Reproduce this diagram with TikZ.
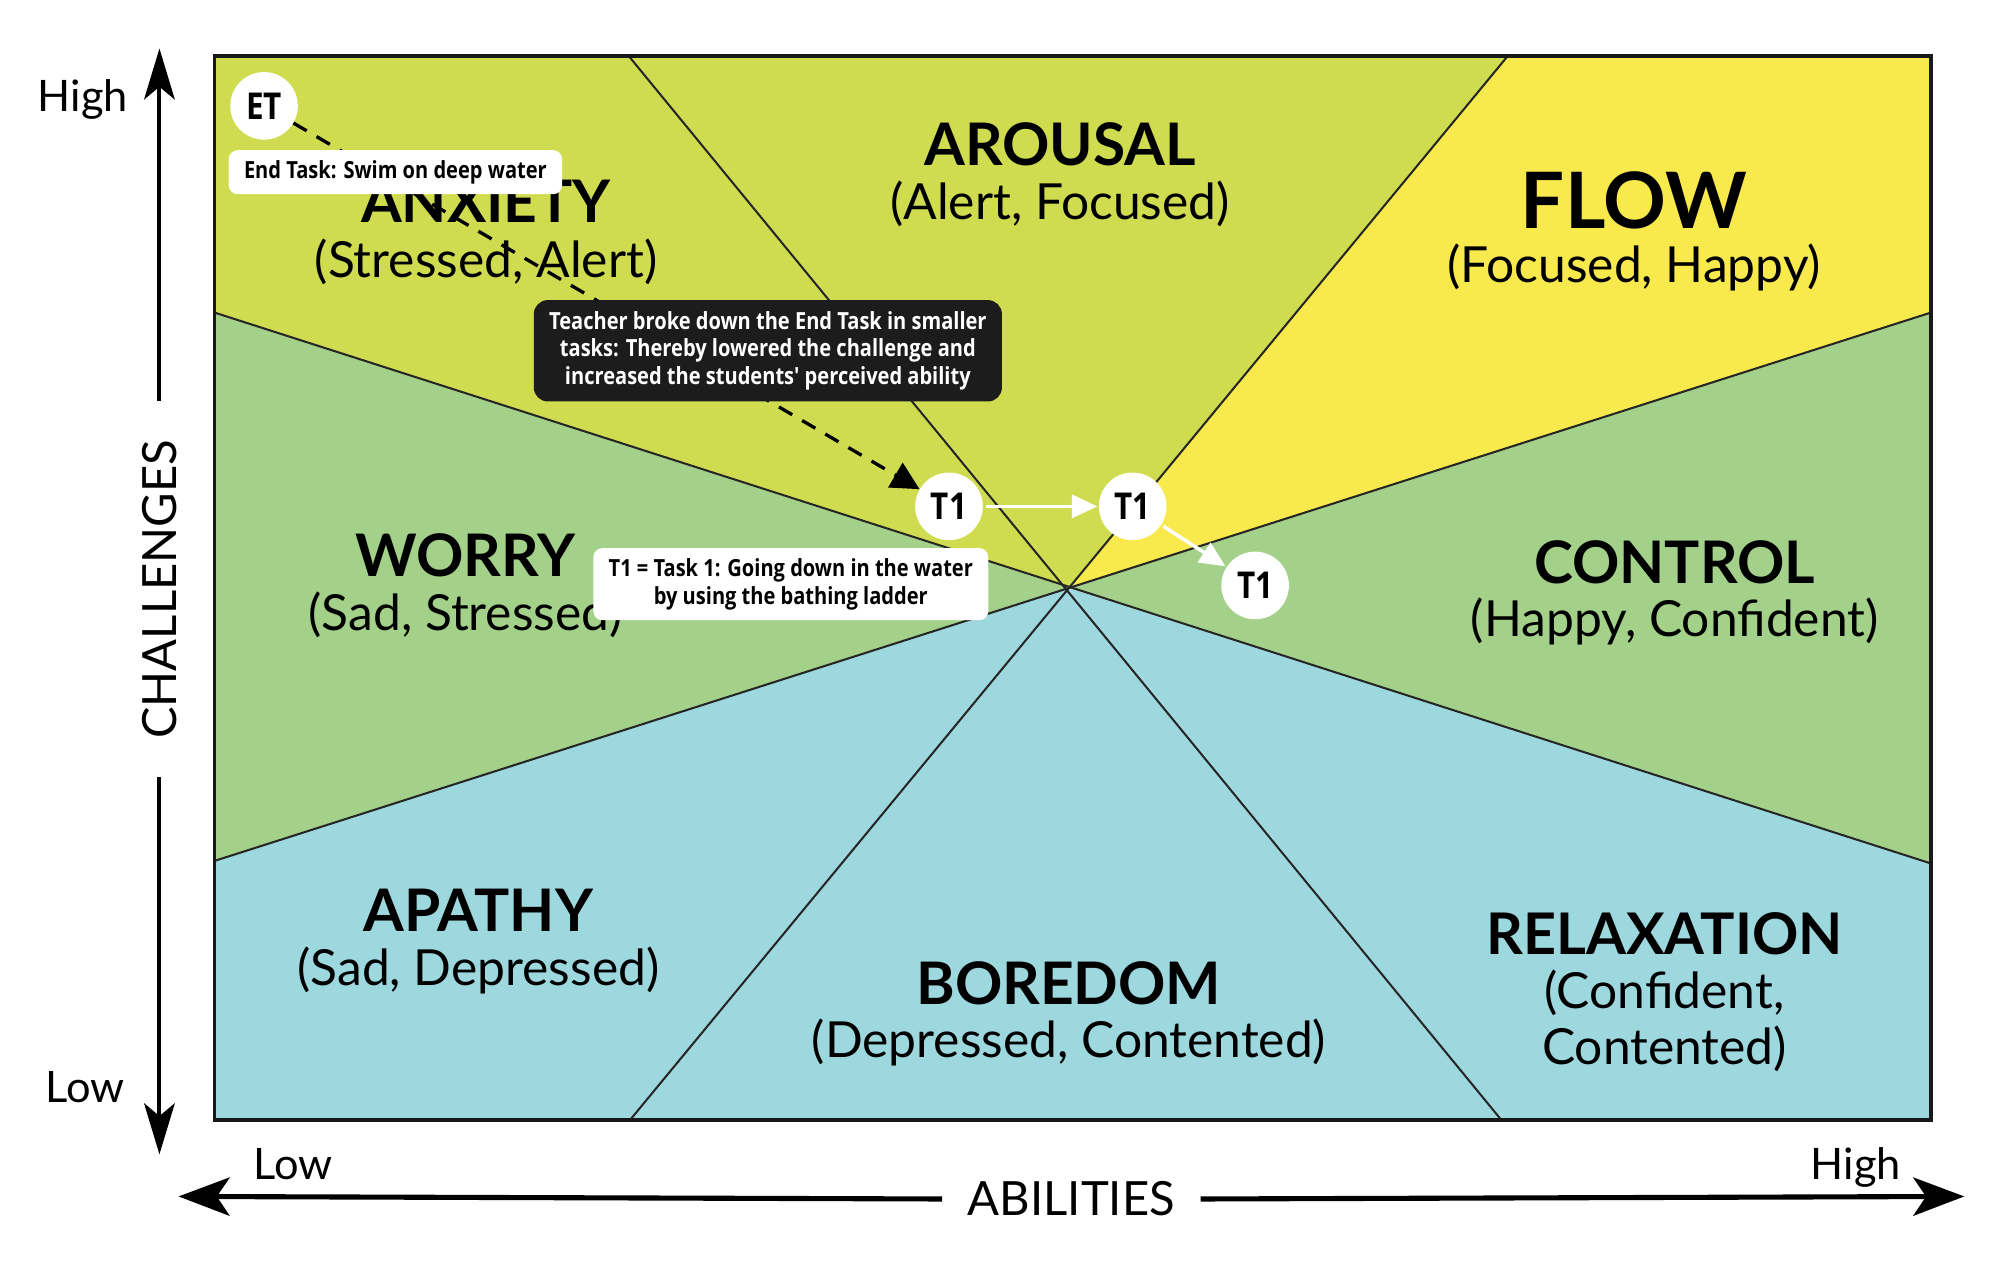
\documentclass[tikz,border=0pt]{standalone}
\usepackage{fontspec}
\setmainfont{Lato}
\newfontfamily\annotfont[FakeStretch=0.85]{Open Sans}
\usetikzlibrary{arrows.meta}
\definecolor{ygreen}{HTML}{D0DC50}
\definecolor{fyellow}{HTML}{F8E94C}
\definecolor{fgreen}{HTML}{A3D18A}
\definecolor{fblue}{HTML}{9ED8DF}
\definecolor{boxblack}{HTML}{1C1C1C}
\tikzset{
  divider/.style={line width=1.6pt, draw=black!85},
  frame/.style={line width=2.6pt, draw=black!90},
  title/.style={font=\bfseries\fontsize{46}{46}\selectfont, inner sep=0pt},
  sub/.style={font=\fontsize{39}{39}\selectfont, inner sep=0pt},
  axislbl/.style={font=\fontsize{37}{37}\selectfont},
  endlbl/.style={font=\fontsize{34}{34}\selectfont, inner sep=0pt},
  vaxis/.style={line width=3.2pt, -{Stealth[length=40pt,width=24pt,inset=10pt]}},
  haxis/.style={line width=4pt, -{Stealth[length=40pt,width=30pt,inset=10pt]}},
  circ/.style={circle, fill=white, minimum size=53pt, inner sep=0pt,
    font=\annotfont\bfseries\fontsize{29}{29}\selectfont},
  wbox/.style={fill=white, rounded corners=7pt, align=center, inner xsep=12pt, inner ysep=8pt,
    font=\annotfont\bfseries\fontsize{18.5}{22}\selectfont},
  bbox/.style={fill=boxblack, text=white, rounded corners=11pt, align=center, inner xsep=12pt, inner ysep=9pt,
    font=\annotfont\bfseries\fontsize{18.5}{21.5}\selectfont},
  dasharrow/.style={line width=2.6pt, dash pattern=on 12pt off 9pt,
    -{Triangle[length=22pt,width=22pt]}},
  warrow/.style={line width=2.8pt, white, -{Triangle[length=20pt,width=18pt]}, shorten <=2pt, shorten >=1pt},
}
\begin{document}
\begin{tikzpicture}[x=1pt,y=-1pt]
\useasboundingbox (0,0) rectangle (1568,1001);
\fill[white] (0,0) rectangle (1568,1001);
% corners and boundary points
\coordinate (C) at (838,461);
\coordinate (TL) at (168,44);
\coordinate (TR) at (1514,44);
\coordinate (BL) at (168,878);
\coordinate (BR) at (1514,878);
\coordinate (t1) at (493,44);
\coordinate (t2) at (1182,44);
\coordinate (l1) at (168,245);
\coordinate (l2) at (168,675);
\coordinate (r1) at (1514,245);
\coordinate (r2) at (1514,677);
\coordinate (b1) at (494,878);
\coordinate (b2) at (1177,878);
% regions
\fill[ygreen] (TL) -- (t1) -- (C) -- (l1) -- cycle;
\fill[ygreen] (t1) -- (t2) -- (C) -- cycle;
\fill[fyellow] (t2) -- (TR) -- (r1) -- (C) -- cycle;
\fill[fgreen] (r1) -- (r2) -- (C) -- cycle;
\fill[fblue] (r2) -- (BR) -- (b2) -- (C) -- cycle;
\fill[fblue] (b2) -- (b1) -- (C) -- cycle;
\fill[fblue] (b1) -- (BL) -- (l2) -- (C) -- cycle;
\fill[fgreen] (l2) -- (l1) -- (C) -- cycle;
% dividers
\draw[divider] (t1) -- (b2);
\draw[divider] (t2) -- (b1);
\draw[divider] (l1) -- (r2);
\draw[divider] (l2) -- (r1);
\draw[frame] (TL) rectangle (BR);
% region labels
\node[title] (arousalT) at (831,113) {AROUSAL};
\node[sub] (arousalS) at (831,160) {(Alert, Focused)};
\node[title] (anxT) at (381,158) {ANXIETY};
\node[sub] (anxS) at (381,205) {(Stressed, Alert)};
\node[title, font=\bfseries\fontsize{61}{61}\selectfont] (flowT) at (1281,157) {FLOW};
\node[sub] (flowS) at (1281,210) {(Focused, Happy)};
\node[title] (worT) at (365,435) {WORRY};
\node[sub] (worS) at (365,482) {(Sad, Stressed)};
\node[title] (conT) at (1313,441) {CONTROL};
\node[sub] (conS) at (1313,487) {(Happy, Confident)};
\node[title] (apaT) at (375,714) {APATHY};
\node[sub] (apaS) at (375,761) {(Sad, Depressed)};
\node[title] (borT) at (838,771) {BOREDOM};
\node[sub] (borS) at (838,817) {(Depressed, Contented)};
\node[title, font=\bfseries\fontsize{45}{45}\selectfont] (relT) at (1305,732) {RELAXATION};
\node[sub] (relS1) at (1305,778) {(Confident,};
\node[sub] (relS2) at (1305,822) {Contented)};
% axes
\coordinate (vtop) at (125,38);
\coordinate (vbot) at (125,905);
\coordinate (hleft) at (140,938);
\coordinate (hright) at (1540,938);
\node[axislbl, rotate=90, inner xsep=30pt, inner ysep=0pt] (chal) at (125,462) {CHALLENGES};
\node[axislbl, inner xsep=20pt, inner ysep=0pt] (abil) at (840,940) {ABILITIES};
\draw[vaxis] (chal.east) -- (vtop);
\draw[vaxis] (chal.west) -- (vbot);
\draw[haxis] (abil.west) -- (hleft);
\draw[haxis] (abil.east) -- (hright);
\node[endlbl] (vhigh) at (65,78) {High};
\node[endlbl] (vlow) at (67,852) {Low};
\node[endlbl] (hlow) at (230,913) {Low};
\node[endlbl] (hhigh) at (1455,915) {High};
% annotation circles
\node[circ] (ET) at (207,83) {ET};
\node[circ] (T1a) at (744,397) {T1};
\node[circ] (T1b) at (888,397) {T1};
\node[circ] (T1c) at (984,459) {T1};
% dashed connector (behind boxes)
\draw[dasharrow] (ET) -- (T1a);
% boxes
\node[wbox] (endbox) at (310,135) {End Task: Swim on deep water};
\node[bbox] (teachbox) at (602,275) {Teacher broke down the End Task in smaller\\tasks: Thereby lowered the challenge and\\increased the students' perceived ability};
\node[wbox] (t1box) at (620,458) {T1 = Task 1: Going down in the water\\by using the bathing ladder};
% white arrows
\draw[warrow] (T1a) -- (T1b);
\draw[warrow] (T1b) -- (T1c);
\end{tikzpicture}
\end{document}
